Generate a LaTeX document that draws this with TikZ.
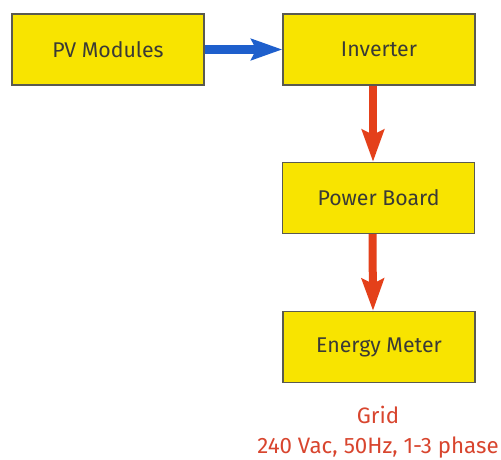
\documentclass[tikz,border=0pt]{standalone}
\usepackage{fontspec}
\setmainfont{Fira Sans}
\usetikzlibrary{arrows.meta}
\definecolor{boxyellow}{HTML}{F8E400}
\definecolor{boxedge}{HTML}{5A5A50}
\definecolor{arrblue}{HTML}{1E5FCC}
\definecolor{arrred}{HTML}{E4401A}
\definecolor{txtred}{HTML}{D8452E}
\definecolor{txtgray}{HTML}{3A3A36}
\begin{document}
\begin{tikzpicture}[x=1pt,y=-1pt,
  boxnode/.style={draw=boxedge,line width=1.4pt,fill=boxyellow,minimum width=192pt,minimum height=71pt,inner sep=0pt,text=txtgray,font=\fontsize{21.3}{25}\selectfont},
  bluearrow/.style={draw=arrblue,line width=9pt,-{Stealth[length=31pt,width=21pt,inset=5pt]}},
  redarrow/.style={draw=arrred,line width=8pt,-{Stealth[length=32pt,width=22pt,inset=5pt]}}]
\useasboundingbox (0,0) rectangle (501,459);
\node[boxnode] (pv) at (108,49.5) {PV Modules};
\node[boxnode] (inv) at (379,49.5) {Inverter};
\node[boxnode] (pb) at (378.5,198) {Power Board};
\node[boxnode] (em) at (379,347) {Energy Meter};
\node[text=txtred,font=\fontsize{22.3}{30}\selectfont,align=center,anchor=north] (grid) at (378,403) {Grid\\240 Vac, 50Hz, 1-3 phase};
\draw[bluearrow] (pv.east) -- (inv.west);
\draw[redarrow] ([xshift=-6pt]inv.south) -- ([xshift=-5.5pt]pb.north);
\draw[redarrow] ([xshift=-6pt]pb.south) -- ([xshift=-6pt]em.north);
\end{tikzpicture}
\end{document}
